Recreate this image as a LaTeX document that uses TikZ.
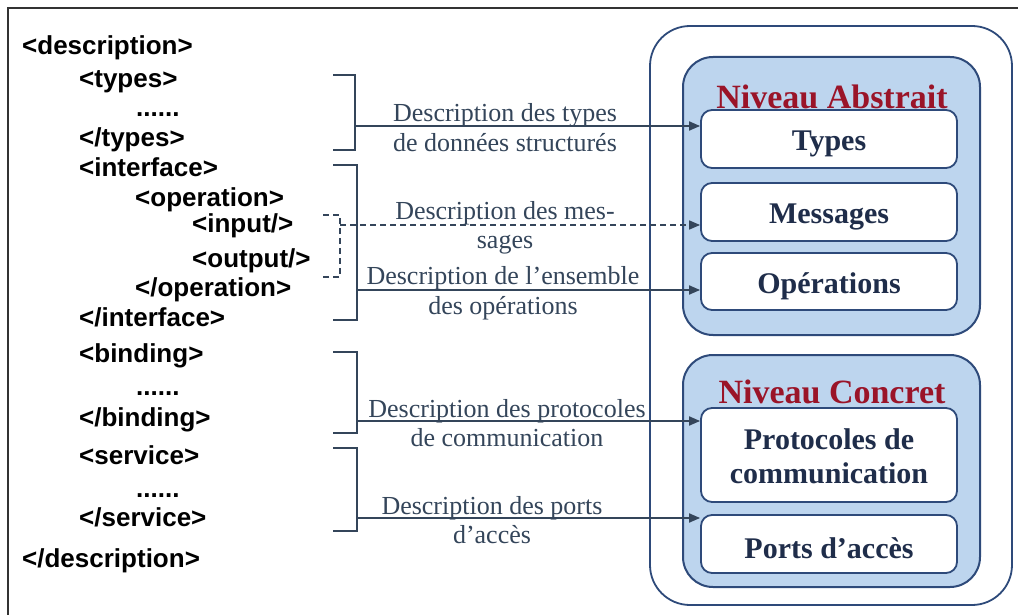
\documentclass[tikz,border=0pt]{standalone}
\usepackage{fontspec}
\setmainfont{Liberation Serif}
\newfontfamily\codefont{Liberation Sans}
\usetikzlibrary{arrows.meta}
\definecolor{navy}{HTML}{2E4A7A}
\definecolor{lightblue}{HTML}{BDD5EE}
\definecolor{darkred}{HTML}{9A1428}
\definecolor{slate}{HTML}{34455A}
\definecolor{boxtext}{HTML}{1F2D4A}
\definecolor{frame}{HTML}{333333}
\newcommand{\lowered}[2]{\raisebox{-#1}[\height][\depth]{#2}}
\begin{document}
\begin{tikzpicture}[x=1pt,y=-1pt,
  code/.style={anchor=base west, inner sep=0pt, font=\codefont\bfseries\fontsize{26}{26}\selectfont},
  outerbox/.style={draw=navy, line width=1.8pt, fill=white, rounded corners=40pt, inner sep=0pt},
  levelbox/.style={draw=navy, line width=2pt, fill=lightblue, rounded corners=30pt, inner sep=0pt},
  itembox/.style={draw=navy, line width=1.8pt, fill=white, rounded corners=11pt, inner sep=0pt,
     minimum width=256pt, align=center, text=boxtext, font=\bfseries\fontsize{30}{34}\selectfont},
  leveltitle/.style={inner sep=0pt, text=darkred, font=\bfseries\fontsize{34}{34}\selectfont},
  label/.style={inner sep=0pt, align=center, text=slate, font=\fontsize{26}{29.5}\selectfont},
  brk/.style={draw=slate, line width=2pt},
  dbrk/.style={draw=slate, line width=1.6pt, dash pattern=on 6pt off 4pt},
  conn/.style={draw=slate, line width=1.8pt, -{Triangle[length=11pt,width=9pt]}},
  dconn/.style={draw=slate, line width=1.6pt, dash pattern=on 6pt off 4pt, -{Triangle[length=11pt,width=9pt]}}
]
\useasboundingbox (0,0) rectangle (1018,615);
\fill[white] (0,0) rectangle (1018,615);
% frame
\draw[frame, line width=2pt] (8,615) -- (8,8) -- (1018,8);

% code listing
\node[code] (c1) at (22,55) {<description>};
\node[code] (c2) at (79,88) {<types>};
\node[code] (c3) at (136,117) {......};
\node[code] (c4) at (79,147) {</types>};
\node[code] (c5) at (79,177) {<interface>};
\node[code] (c6) at (135,207) {<operation>};
\node[code] (c7) at (192,232) {<input/>};
\node[code] (c8) at (192,267) {<output/>};
\node[code] (c9) at (135,296) {</operation>};
\node[code] (c10) at (79,326) {</interface>};
\node[code] (c11) at (79,362) {<binding>};
\node[code] (c12) at (136,395) {......};
\node[code] (c13) at (79,426) {</binding>};
\node[code] (c14) at (79,464) {<service>};
\node[code] (c15) at (136,497) {......};
\node[code] (c16) at (79,526) {</service>};
\node[code] (c17) at (22,567) {</description>};

% right side boxes
\node[outerbox, minimum width=362pt, minimum height=579pt] (outer) at (831,315.5) {};
\node[levelbox, minimum width=297pt, minimum height=278pt] (abs) at (831.5,196) {};
\node[levelbox, minimum width=297pt, minimum height=232pt] (con) at (831.5,471) {};
\node[leveltitle] (tabs) at (832,97) {Niveau Abstrait};
\node[leveltitle] (tcon) at (832,392) {Niveau Concret};
\node[itembox, minimum height=58pt] (types) at (829,139) {\lowered{5pt}{Types}};
\node[itembox, minimum height=58pt] (msg) at (829,212) {\lowered{5pt}{Messages}};
\node[itembox, minimum height=57pt] (ops) at (829,281.5) {\lowered{5pt}{Opérations}};
\node[itembox, minimum height=94pt] (proto) at (829,455) {\lowered{5pt}{\begin{tabular}{@{}c@{}}Protocoles de\\communication\end{tabular}}};
\node[itembox, minimum height=58pt] (ports) at (829,544) {\lowered{4pt}{Ports d’accès}};

% brackets
\draw[brk] (333,75) -- (355,75) -- (355,150) -- (333,150);
\coordinate (b1) at (355,126);
\draw[brk] (333,165) -- (357,165) -- (357,320) -- (333,320);
\coordinate (b2) at (357,290);
\draw[dbrk] (323,215) -- (340,215) -- (340,277) -- (323,277);
\coordinate (d1) at (340,225);
\draw[brk] (333,352) -- (357,352) -- (357,433) -- (333,433);
\coordinate (b3) at (357,421);
\draw[brk] (333,448) -- (357,448) -- (357,531) -- (333,531);
\coordinate (b4) at (357,518);

% labels
\node[label] (l1) at (505,127.5) {Description des types\\de données structurés};
\node[label] (l2) at (505,228) {Description des mes-\\sages};
\node[label] (l3) at (503,293) {Description de l’ensemble\\des opérations};
\node[label] (l4) at (507,423) {Description des protocoles\\de communication};
\node[label] (l5) at (492,520) {Description des ports\\d’accès};

% connectors
\draw[conn] (b1) -- (b1 -| types.west);
\draw[dconn] (d1) -- (d1 -| msg.west);
\draw[conn] (b2) -- (b2 -| ops.west);
\draw[conn] (b3) -- (b3 -| proto.west);
\draw[conn] (b4) -- (b4 -| ports.west);
\end{tikzpicture}
\end{document}
